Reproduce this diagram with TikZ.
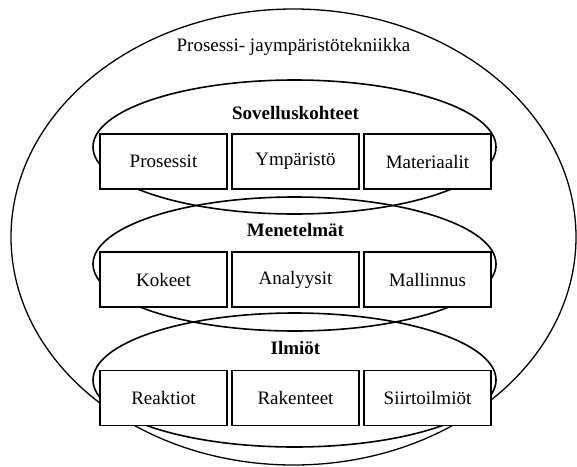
\documentclass[tikz,border=0pt]{standalone}
\usepackage{fontspec}
\setmainfont{Liberation Serif}
\begin{document}
\begin{tikzpicture}[x=1pt,y=-1pt,
  box/.style={draw,line width=1.8pt,fill=white,minimum width=127pt,minimum height=55pt,inner sep=0pt,font=\fontsize{19}{22}\selectfont},
  grouptitle/.style={font=\fontsize{19}{22}\selectfont\bfseries,inner sep=0pt},
  oval/.style={line width=1.6pt},
  outeroval/.style={line width=1.3pt}]
\useasboundingbox[fill=white] (0,0) rectangle (577,466);
% outer ellipse
\draw[outeroval] (293.5,237) ellipse [x radius=282.5, y radius=228];
\node[font=\fontsize{19}{22}\selectfont,inner sep=0pt] (main) at (293.5,47) {Prosessi- jaympäristötekniikka};
% group ellipses
\draw[oval] (294.5,147) ellipse [x radius=201.5, y radius=67];
\draw[oval] (294.5,264) ellipse [x radius=201.5, y radius=67];
\draw[oval] (294.5,380) ellipse [x radius=201.5, y radius=67];
% titles
\node[grouptitle] (t1) at (295.5,113) {Sovelluskohteet};
\node[grouptitle] (t2) at (295.5,230) {Menetelmät};
\node[grouptitle] (t3) at (295.5,348) {Ilmiöt};
% boxes
\node[box] (b11) at (163.5,161.5) {Prosessit};
\node[box] (b12) at (295.5,161.5) {Ympäristö};
\node[box] (b13) at (427.5,161.5) {Materiaalit};
\node[box] (b21) at (163.5,279.5) {Kokeet};
\node[box] (b22) at (295.5,279.5) {Analyysit};
\node[box] (b23) at (427.5,279.5) {Mallinnus};
\node[box] (b31) at (163.5,398) {Reaktiot};
\node[box] (b32) at (295.5,398) {Rakenteet};
\node[box] (b33) at (427.5,398) {Siirtoilmiöt};
\end{tikzpicture}
\end{document}
